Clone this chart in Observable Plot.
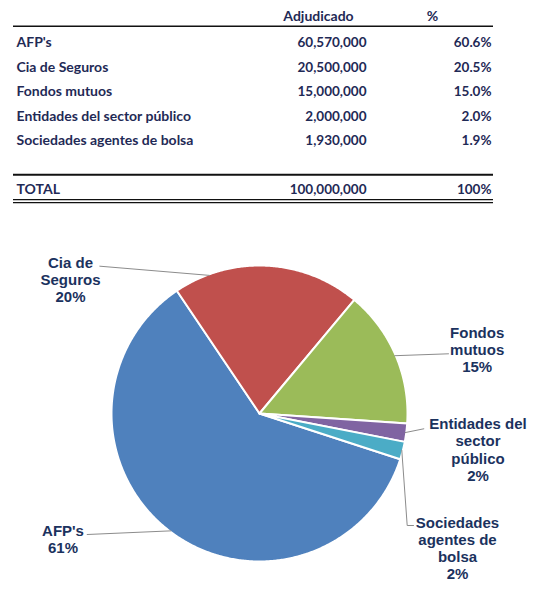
<!DOCTYPE html>
<html>
<head>
<meta charset="utf-8">
<script src="https://cdn.jsdelivr.net/npm/d3@7"></script>
<script src="https://cdn.jsdelivr.net/npm/@observablehq/plot@0.6"></script>
<style>
  html, body { margin: 0; padding: 0; background: #ffffff; }
  #chart svg { display: block; }
</style>
</head>
<body>
<div id="chart"></div>
<script>
// ---------- DATA ----------
const categories = ["AFP's", "Cia de Seguros", "Fondos mutuos", "Entidades del sector público", "Sociedades agentes de bolsa"];
const adjudicado = [60570000, 20500000, 15000000, 2000000, 1930000];
const percentages = [60.6, 20.5, 15.0, 2.0, 1.9];
const headers = ["Adjudicado", "%"];
const totalLabel = "TOTAL";
const totalValue = 100000000;
const totalPercent = "100%";
const pieLabels = ["AFP's", "Cia de\nSeguros", "Fondos\nmutuos", "Entidades del\nsector\npúblico", "Sociedades\nagentes de\nbolsa"];
const piePercents = ["61%", "20%", "15%", "2%", "2%"];
const sliceColors = ["#4F81BD", "#C0504D", "#9BBB59", "#8064A2", "#4BACC6"];

// ---------- LAYOUT (pixels) ----------
const W = 543, H = 608;
const tableColor = "#1f2a56";
const labelColor = "#1b325e";
const colLabelX = 16, colValueX = 366, colPctX = 491;
const headerX = [318, 432], headerY = 16;
const rowY = [41.7, 66.7, 91.3, 116, 140.5];
const totalY = 189.5;
const ruleX1 = 13, ruleX2 = 493;
const cx = 259, cy = 413, R = 148;
const startDeg = 108;
const labelLayout = [
  {lx: 62.5, ly: 538.7, tail: [[86.7, 534]]},
  {lx: 70, ly: 279.2, edgeDeg: -20, tail: [[99.3, 265.7]]},
  {lx: 476.7, ly: 348.9, tail: [[448, 353.3]]},
  {lx: 477.5, ly: 449, tail: [[423.3, 428.3]]},
  {lx: 457, ly: 547.5, tail: [[406.7, 525], [413, 525]]}
];

// ---------- PIE GEOMETRY (from data) ----------
const rad = Math.PI / 180;
const arcs = d3.pie().sort(null)
  .startAngle(startDeg * rad)
  .endAngle((startDeg + 360) * rad)(adjudicado);

const slicePts = [];
arcs.forEach((a, i) => {
  const cat = categories[i];
  slicePts.push({cat, x: cx, y: cy});
  const n = Math.max(2, Math.ceil((a.endAngle - a.startAngle) / (0.5 * rad)));
  for (let k = 0; k <= n; k++) {
    const t = a.startAngle + (a.endAngle - a.startAngle) * k / n;
    slicePts.push({cat, x: cx + R * Math.sin(t), y: cy - R * Math.cos(t)});
  }
  slicePts.push({cat, x: cx, y: cy});
});

const leaderPts = [];
arcs.forEach((a, i) => {
  const L = labelLayout[i];
  const t = L.edgeDeg != null ? L.edgeDeg * rad : (a.startAngle + a.endAngle) / 2;
  leaderPts.push({cat: categories[i], x: cx + (R - 1) * Math.sin(t), y: cy - (R - 1) * Math.cos(t)});
  L.tail.forEach(([x, y]) => leaderPts.push({cat: categories[i], x, y}));
});

const pieLabelData = categories.map((c, i) => ({
  text: pieLabels[i] + "\n" + piePercents[i],
  x: labelLayout[i].lx, y: labelLayout[i].ly
}));

const fmtNum = d3.format(",");
const fmtPct = d3.format(".1f");

const tableFont = "Lato, 'Open Sans', sans-serif";
const pieFont = "'Liberation Sans', Arial, sans-serif";
const textSize = 14, numSize = 13.5;

const chart = Plot.plot({
  width: W,
  height: H,
  margin: 0,
  x: {domain: [0, W], range: [0, W], axis: null},
  y: {domain: [0, H], range: [0, H], axis: null},
  color: {domain: categories, range: sliceColors},
  style: {background: "#ffffff", overflow: "visible"},
  marks: [
    // table rules
    Plot.ruleY([25.7], {x1: ruleX1, x2: ruleX2, stroke: "#111", strokeWidth: 1.6}),
    Plot.ruleY([174.3], {x1: ruleX1, x2: ruleX2, stroke: "#111", strokeWidth: 2}),
    Plot.ruleY([199.2, 202.2], {x1: ruleX1, x2: ruleX2, stroke: "#111", strokeWidth: 1.2}),
    // header
    Plot.text(headers, {x: (d, i) => headerX[i], y: () => headerY, text: d => d,
      fontFamily: tableFont, fontWeight: "bold", fontSize: textSize, fill: tableColor, textAnchor: "middle"}),
    // table rows
    Plot.text(categories, {x: () => colLabelX, y: (d, i) => rowY[i], text: d => d,
      fontFamily: tableFont, fontWeight: "bold", fontSize: textSize, fill: tableColor, textAnchor: "start"}),
    Plot.text(adjudicado, {x: () => colValueX, y: (d, i) => rowY[i], text: d => fmtNum(d),
      fontFamily: tableFont, fontWeight: "bold", fontSize: numSize, fill: tableColor, textAnchor: "end"}),
    Plot.text(percentages, {x: () => colPctX, y: (d, i) => rowY[i], text: d => fmtPct(d) + "%",
      fontFamily: tableFont, fontWeight: "bold", fontSize: numSize, fill: tableColor, textAnchor: "end"}),
    // total row
    Plot.text([totalLabel], {x: () => colLabelX, y: () => totalY, text: d => d,
      fontFamily: tableFont, fontWeight: "bold", fontSize: textSize, fill: tableColor, textAnchor: "start"}),
    Plot.text([totalValue], {x: () => colValueX, y: () => totalY, text: d => fmtNum(d),
      fontFamily: tableFont, fontWeight: "bold", fontSize: numSize, fill: tableColor, textAnchor: "end"}),
    Plot.text([totalPercent], {x: () => colPctX, y: () => totalY, text: d => d,
      fontFamily: tableFont, fontWeight: "bold", fontSize: numSize, fill: tableColor, textAnchor: "end"}),
    // pie slices
    Plot.line(slicePts, {x: "x", y: "y", z: "cat", fill: "cat", stroke: "#ffffff",
      strokeWidth: 2, strokeLinejoin: "round", curve: "linear"}),
    // leader lines
    Plot.line(leaderPts, {x: "x", y: "y", z: "cat", stroke: "#8c8c8c", strokeWidth: 1, curve: "linear"}),
    // pie labels
    Plot.text(pieLabelData, {x: "x", y: "y", text: "text", lineHeight: 1.15,
      fontFamily: pieFont, fontWeight: "bold", fontSize: 15, fill: labelColor, textAnchor: "middle"})
  ]
});

document.getElementById("chart").appendChild(chart);
</script>
</body>
</html>
